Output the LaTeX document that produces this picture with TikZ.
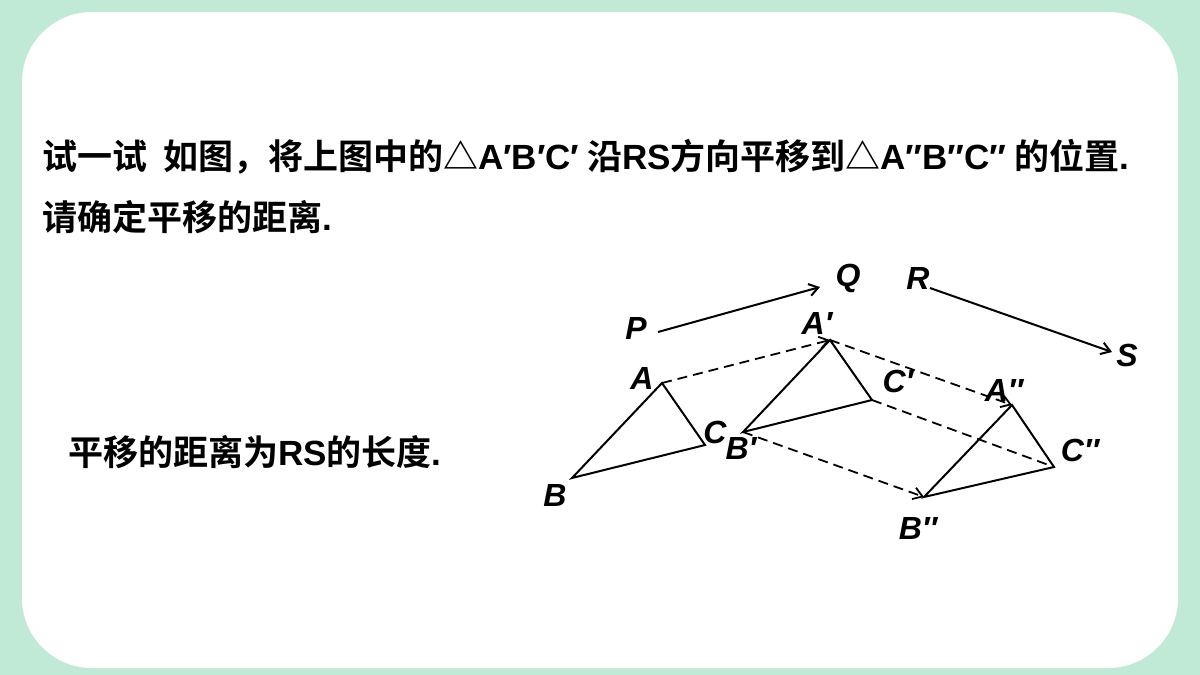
\documentclass[tikz,border=0pt]{standalone}
\usepackage{fontspec}
\usetikzlibrary{arrows.meta}
\setmainfont{Liberation Sans}
\newfontfamily\cjk{Noto Sans CJK SC}[BoldFont={Noto Sans CJK SC Bold}]
\begin{document}
\begin{tikzpicture}[x=1pt,y=-1pt,
  lbl/.style={font=\fontsize{32}{32}\selectfont\bfseries\itshape},
  ttl/.style={font=\fontsize{35}{35}\selectfont\bfseries\cjk,anchor=west,inner sep=0},
  seg/.style={line width=2pt},
  dsh/.style={line width=1.8pt,dash pattern=on 10pt off 6pt},
  arr/.style={-{Straight Barb[length=9pt,width=12pt]}}]
\useasboundingbox (0,0) rectangle (1200,675);
\fill[fill={rgb,255:red,192;green,233;blue,214}] (0,0) rectangle (1200,675);
\fill[white,rounded corners=70pt] (22,12) rectangle (1178,668);
\node[ttl] (t1) at (42,157) {试一试\ \ 如图，将上图中的△\textrm{A′B′C′} 沿\textrm{RS}方向平移到△\textrm{A″B″C″} 的位置\textrm{.}};
\node[ttl] (t2) at (42,217) {请确定平移的距离\textrm{.}};
\node[ttl] (t3) at (68,452) {平移的距离为\textrm{RS}的长度\textrm{.}};
\coordinate (A) at (662,383); \coordinate (B) at (572,478); \coordinate (C) at (705,445);
\coordinate (A1) at (830,340); \coordinate (B1) at (743,432); \coordinate (C1) at (872,400);
\coordinate (A2) at (1012,405); \coordinate (B2) at (924,497); \coordinate (C2) at (1054,467);
\coordinate (Pp) at (658,332); \coordinate (Qp) at (820,287);
\coordinate (Rp) at (930,288); \coordinate (Sp) at (1112,352);
\draw[seg] (A)--(B)--(C)--cycle;
\draw[seg] (A1)--(B1)--(C1)--cycle;
\draw[seg] (A2)--(B2)--(C2)--cycle;
\draw[seg,arr] (Pp)--(Qp);
\draw[seg,arr] (Rp)--(Sp);
\draw[dsh,arr] (A)--(A1);
\draw[dsh,arr] (A1)--(A2);
\draw[dsh] (C1)--(C2);
\draw[dsh,arr] (B1)--(B2);
\node[lbl] (lA) at (642,378) {A};
\node[lbl] (lB) at (555,495) {B};
\node[lbl] (lC) at (715,432) {C};
\node[lbl] (lA1) at (817,323) {A′};
\node[lbl] (lB1) at (741,448) {B′};
\node[lbl] (lC1) at (898,381) {C′};
\node[lbl] (lA2) at (1004,390) {A″};
\node[lbl] (lB2) at (918,528) {B″};
\node[lbl] (lC2) at (1080,450) {C″};
\node[lbl] (lP) at (636,328) {P};
\node[lbl] (lQ) at (848,278) {Q};
\node[lbl] (lR) at (918,278) {R};
\node[lbl] (lS) at (1127,355) {S};
\end{tikzpicture}
\end{document}
